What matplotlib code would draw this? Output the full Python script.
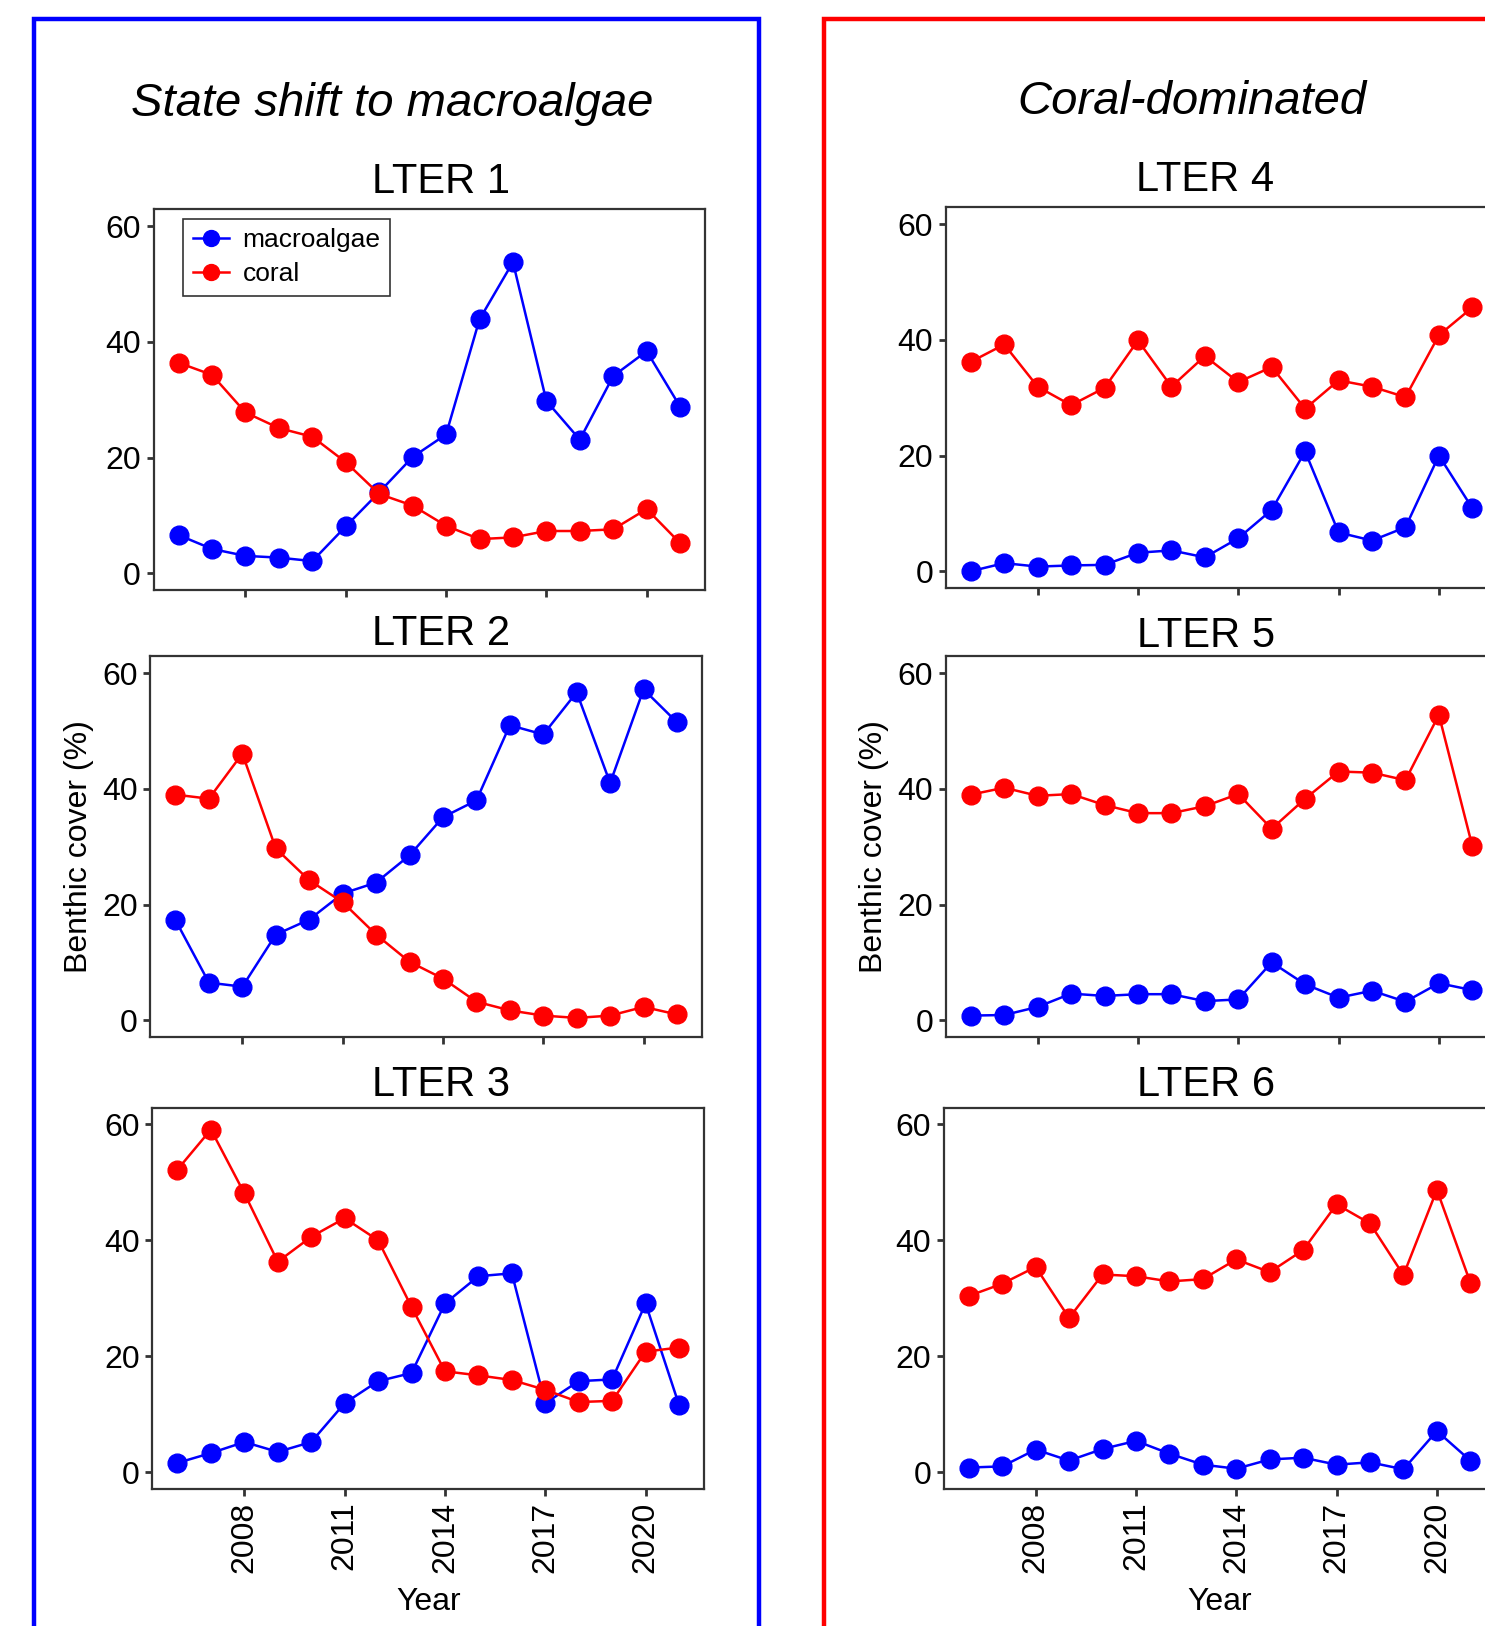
import matplotlib
matplotlib.use("Agg")
import matplotlib.pyplot as plt
from matplotlib.patches import Rectangle

plt.rcParams['font.family'] = ['Liberation Sans', 'DejaVu Sans']

years = list(range(2006, 2022))
xticks = [2008, 2011, 2014, 2017, 2020]
yticks = [0, 20, 40, 60]

lter1_macro = [6.6, 4.2, 3.0, 2.7, 2.1, 8.1, 14.0, 20.1, 24.0, 43.9, 53.8, 29.8, 23.1, 34.1, 38.4, 28.8]
lter1_coral = [36.4, 34.3, 27.8, 25.1, 23.6, 19.2, 13.7, 11.7, 8.2, 5.9, 6.2, 7.3, 7.3, 7.6, 11.1, 5.2]
lter2_macro = [17.3, 6.5, 5.8, 14.8, 17.4, 21.9, 23.8, 28.5, 35.1, 38.0, 51.0, 49.4, 56.7, 41.0, 57.2, 51.5]
lter2_coral = [39.0, 38.3, 46.1, 29.7, 24.2, 20.4, 14.8, 10.1, 7.2, 3.2, 1.7, 0.8, 0.4, 0.8, 2.3, 1.0]
lter3_macro = [1.6, 3.3, 5.2, 3.5, 5.2, 11.9, 15.7, 17.1, 29.1, 33.8, 34.3, 11.9, 15.7, 16.0, 29.1, 11.6]
lter3_coral = [52.2, 59.1, 48.1, 36.3, 40.6, 43.8, 40.0, 28.5, 17.4, 16.7, 15.9, 14.2, 12.1, 12.3, 20.8, 21.5]
lter4_macro = [0.0, 1.4, 0.8, 1.0, 1.1, 3.2, 3.6, 2.4, 5.7, 10.6, 20.7, 6.7, 5.3, 7.6, 20.0, 10.9]
lter4_coral = [36.2, 39.2, 31.9, 28.7, 31.7, 39.9, 31.9, 37.2, 32.7, 35.3, 28.1, 33.0, 31.9, 30.1, 40.8, 45.6]
lter5_macro = [0.8, 0.9, 2.3, 4.6, 4.2, 4.5, 4.5, 3.3, 3.6, 10.0, 6.2, 3.9, 5.1, 3.2, 6.4, 5.2]
lter5_coral = [39.0, 40.2, 38.8, 39.1, 37.2, 35.8, 35.8, 37.0, 39.1, 33.1, 38.3, 43.0, 42.8, 41.5, 52.8, 30.1]
lter6_macro = [0.8, 1.0, 3.9, 2.0, 4.0, 5.4, 3.2, 1.3, 0.6, 2.2, 2.5, 1.3, 1.7, 0.5, 7.1, 2.0]
lter6_coral = [30.4, 32.5, 35.4, 26.6, 34.1, 33.8, 32.9, 33.3, 36.7, 34.5, 38.3, 46.2, 42.9, 34.0, 48.7, 32.7]

W, H = 1485, 1626
fig = plt.figure(figsize=(W / 100, H / 100), dpi=100)

def px(x0, y0, x1, y1):
    return [x0 / W, 1 - y1 / H, (x1 - x0) / W, (y1 - y0) / H]

AW = 551.7
panels = [
    ("LTER 1", lter1_macro, lter1_coral, (153.5, 209.5, 590.0), (440.7, 193), False, True),
    ("LTER 2", lter2_macro, lter2_coral, (150.4, 656.4, 1037.0), (441.5, 645), True, False),
    ("LTER 3", lter3_macro, lter3_coral, (152.4, 1107.5, 1489.0), (440.7, 1096), False, False),
    ("LTER 4", lter4_macro, lter4_coral, (945.7, 207.4, 588.0), (1205, 191), False, False),
    ("LTER 5", lter5_macro, lter5_coral, (945.7, 656.4, 1037.0), (1206, 647), True, False),
    ("LTER 6", lter6_macro, lter6_coral, (943.7, 1107.5, 1489.0), (1206, 1096), False, False),
]

gray = '#333333'
for i, (name, mac, cor, (x0, y0, y1), (tx, ty), ylab, leg) in enumerate(panels):
    ax = fig.add_axes(px(x0, y0, x0 + AW, y1))
    ax.plot(years, mac, color='#0000FF', lw=1.8, marker='o', ms=13.5, label='macroalgae', zorder=3)
    ax.plot(years, cor, color='#FF0000', lw=1.8, marker='o', ms=13.5, label='coral', zorder=3)
    ax.set_xlim(2005.25, 2021.75)
    ax.set_ylim(-2.9, 62.9)
    ax.set_yticks(yticks)
    ax.set_xticks(xticks)
    for s in ax.spines.values():
        s.set_color(gray)
        s.set_linewidth(1.6)
    ax.tick_params(axis='both', color=gray, width=2.0, length=5, labelsize=23, pad=4, labelcolor='black')
    if i in (2, 5):
        ax.set_xticklabels([str(t) for t in xticks], rotation=90)
        ax.set_xlabel('Year', fontsize=23, labelpad=10)
    else:
        ax.set_xticklabels([])
    if ylab:
        ax.set_ylabel('Benthic cover (%)', fontsize=23, labelpad=6)
    fig.text(tx / W, 1 - ty / H, name, fontsize=30, ha='center', va='baseline')
    if leg:
        lg = ax.legend(loc='upper left', bbox_to_anchor=(0.054, 0.975), fontsize=19,
                       frameon=True, fancybox=False, edgecolor='black', borderaxespad=0,
                       handlelength=1.4, handletextpad=0.5, borderpad=0.35, labelspacing=0.38,
                       markerscale=0.85)
        lg.get_frame().set_linewidth(1.2)

fig.text(392 / W, 1 - 116 / H, 'State shift to macroalgae', fontsize=34, style='italic',
         ha='center', va='baseline')
fig.text(1191.5 / W, 1 - 114 / H, 'Coral-dominated', fontsize=34, style='italic',
         ha='center', va='baseline')

fig.patches.append(Rectangle((34.2 / W, -0.1), (759 - 34.2) / W, 1.1 - 18.7 / H,
                             transform=fig.transFigure, fill=False, edgecolor='#0000FF', lw=3.2))
fig.patches.append(Rectangle((824 / W, -0.1), 0.5, 1.1 - 19 / H,
                             transform=fig.transFigure, fill=False, edgecolor='#FF0000', lw=3.2))

fig.savefig('out.png', dpi=100)
